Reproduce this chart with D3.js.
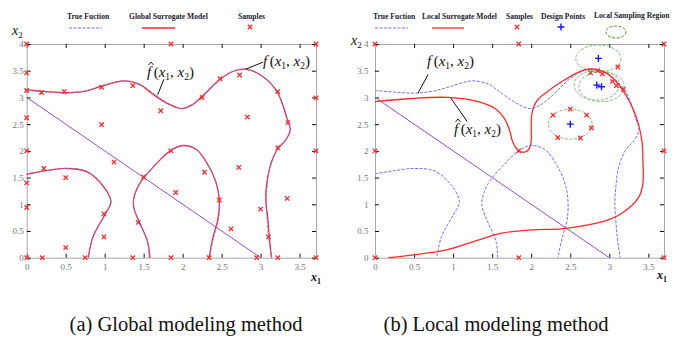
<!DOCTYPE html>
<html><head><meta charset="utf-8">
<script src="https://cdn.jsdelivr.net/npm/d3@7"></script>
<style>body{margin:0;background:#fff} svg{display:block}</style>
</head><body>
<svg id="c" width="689" height="348"></svg>
<script>
// ---------- data ----------
const xTicks = [0, 0.5, 1, 1.5, 2, 2.5, 3, 3.5];
const yTicks = [0, 0.5, 1, 1.5, 2, 2.5, 3, 3.5, 4];
const xTickLabels = ["0", "0.5", "1", "1.5", "2", "2.5", "3", "3.5"];
const yTickLabels = ["0", "0.5", "1", "1.5", "2", "2.5", "3", "3.5", "4"];

// true function contours (shared by both panels)
const trueTop = [[0,3.13],[0.25,3.10],[0.51,3.08],[0.75,3.12],[0.96,3.20],[1.24,3.31],[1.45,3.25],[1.62,3.08],[1.80,2.90],[1.99,2.79],[2.12,2.86],[2.25,3.01],[2.48,3.33],[2.65,3.49],[2.80,3.53],[3.0,3.42],[3.21,3.11],[3.34,2.60],[3.38,2.39],[3.32,2.20],[3.21,2.02],[3.12,1.70],[3.08,1.27],[3.07,1.0],[3.08,0.77],[3.10,0.40],[3.14,0]];
const trueLeft = [[0,1.57],[0.25,1.63],[0.51,1.67],[0.77,1.62],[0.98,1.35],[1.08,1.05],[1.00,0.80],[0.85,0.39],[0.79,0]];
const trueMid = [[1.57,0],[1.55,0.30],[1.45,0.65],[1.38,0.90],[1.37,1.08],[1.45,1.39],[1.67,1.77],[1.84,2.00],[2.00,2.10],[2.18,2.02],[2.32,1.75],[2.43,1.40],[2.47,1.08],[2.46,0.71],[2.40,0.39],[2.34,0]];
const diagonal = [[0,3],[3,0]];

// global surrogate (panel a)
const globalTop = [[0,3.14],[0.25,3.11],[0.51,3.09],[0.75,3.12],[0.96,3.21],[1.24,3.31],[1.45,3.24],[1.62,3.06],[1.80,2.89],[1.99,2.79],[2.12,2.86],[2.25,3.02],[2.48,3.34],[2.65,3.49],[2.80,3.53],[3.0,3.42],[3.21,3.11],[3.34,2.60],[3.38,2.39],[3.32,2.20],[3.21,2.02],[3.12,1.70],[3.07,1.27],[3.07,1.0],[3.09,0.77],[3.11,0.40],[3.14,0]];
const globalLeft = [[0,1.56],[0.25,1.63],[0.51,1.67],[0.77,1.61],[0.98,1.34],[1.08,1.05],[1.00,0.80],[0.85,0.39],[0.79,0]];
const globalMid = [[1.58,0],[1.55,0.30],[1.45,0.65],[1.38,0.90],[1.37,1.08],[1.45,1.39],[1.67,1.77],[1.84,2.00],[2.00,2.10],[2.18,2.02],[2.32,1.75],[2.43,1.40],[2.47,1.08],[2.45,0.71],[2.39,0.39],[2.34,0]];
const globalSamples = [[0,4],[1.85,4],[3.71,4],[0,3.46],[0,3.13],[0.19,3.09],[0.48,3.11],[0.96,3.19],[1.36,3.22],[1.72,2.75],[2.25,3.00],[2.48,3.35],[2.73,3.42],[3.22,3.11],[2.83,2.63],[3.35,2.53],[3.71,2.99],[0,2.62],[0.96,2.49],[0,2.0],[3.71,2.0],[0.22,1.67],[1.12,1.79],[0,1.40],[0.50,1.50],[1.50,1.51],[1.85,2.0],[2.28,1.60],[2.72,1.69],[1.91,1.22],[0,0.94],[0.99,0.82],[2.47,1.08],[3.34,1.11],[3.22,2.06],[3.00,0.91],[1.43,0.66],[0.99,0.39],[2.62,0.54],[3.10,0.39],[0.50,0.19],[0,0],[0.20,0],[0.75,0],[1.36,0],[1.85,0],[2.34,0],[2.95,0],[3.22,0],[3.71,0]];

// local surrogate (panel b)
const localSurrogate = [[0,2.92],[0.47,2.98],[0.94,3.00],[1.32,2.92],[1.55,2.78],[1.66,2.60],[1.72,2.40],[1.76,2.18],[1.82,2.03],[1.90,1.97],[1.97,2.03],[2.00,2.20],[2.00,2.42],[2.01,2.70],[2.07,2.93],[2.18,3.08],[2.43,3.33],[2.67,3.51],[2.80,3.53],[2.97,3.45],[3.14,3.20],[3.27,2.89],[3.37,2.52],[3.42,2.15],[3.43,1.80],[3.43,1.39],[3.38,1.14],[3.17,0.84],[2.99,0.71],[2.60,0.58],[2.39,0.54],[2.01,0.52],[1.62,0.46],[1.32,0.33],[0.90,0.14],[0.47,0.05],[0.17,0]];
const localSamples = [[0,4],[1.84,4],[3.70,4],[0,2],[3.70,2],[0,0],[1.84,0],[3.70,0],[1.84,2.0],[3.11,3.57],[2.76,3.46],[2.85,3.50],[2.91,3.44],[3.04,3.30],[3.09,3.22],[3.18,3.15],[2.28,2.67],[2.50,2.78],[2.71,2.67],[2.77,2.43],[2.34,2.25],[2.63,2.24]];
const designPoints = [[2.86,3.73],[2.84,3.23],[2.90,3.20],[2.50,2.50]];
// local sampling regions: centre x, centre y, radius x, radius y (data units)
const regionCx = [2.86, 2.84, 2.90, 2.50];
const regionCy = [3.73, 3.23, 3.20, 2.50];
const regionRx = [0.29, 0.29, 0.29, 0.28];
const regionRy = [0.25, 0.28, 0.28, 0.28];

const legendA = ["True Fuction", "Global Surrogate Model", "Samples"];
const legendB = ["True Fuction", "Local Surrogate Model", "Samples", "Design Points", "Local Sampling Region"];
const captions = ["(a) Global modeling method", "(b) Local modeling method"];

// ---------- drawing ----------
const svg = d3.select("#c");
const RED = "#ff2a2a", BLUE = "#6f6fff", PURPLE = "#9a4ccf", GREEN = "#7fbf7f", DBLUE = "#1414ff";
const serif = "Liberation Serif";

function panel(opts) {
  const x = d3.scaleLinear().domain([0, opts.xmax]).range([opts.x0, opts.x1]);
  const y = d3.scaleLinear().domain([0, 4]).range([257.7, 44]);
  const g = svg.append("g");
  const line = d3.line().x(d => x(d[0])).y(d => y(d[1])).curve(d3.curveCatmullRom.alpha(0.5));

  const styleAxis = (sel) => {
    sel.attr("font-family", serif).attr("font-size", 9);
    sel.select(".domain").attr("stroke", "#a8a8a8").attr("stroke-width", 1);
    sel.selectAll(".tick line").attr("stroke", "#111").attr("stroke-width", 1);
    sel.selectAll(".tick text").attr("fill", "#777");
  };
  g.append("g").attr("transform", `translate(0,${y(0)})`)
    .call(d3.axisBottom(x).tickValues(xTicks).tickFormat((d,i) => xTickLabels[i]).tickSize(-4).tickSizeOuter(0).tickPadding(6))
    .call(styleAxis);
  g.append("g").attr("transform", `translate(0,${y(4)})`)
    .call(d3.axisTop(x).tickValues(xTicks).tickFormat("").tickSize(-4).tickSizeOuter(0))
    .call(styleAxis);
  g.append("g").attr("transform", `translate(${x(0)},0)`)
    .call(d3.axisLeft(y).tickValues(yTicks).tickFormat((d,i) => yTickLabels[i]).tickSize(-4).tickSizeOuter(0).tickPadding(opts.ypad))
    .call(styleAxis);
  g.append("g").attr("transform", `translate(${x(opts.xmax)},0)`)
    .call(d3.axisRight(y).tickValues(yTicks).tickFormat("").tickSize(-4).tickSizeOuter(0))
    .call(styleAxis);

  const xl = g.append("text").attr("x", opts.x2lab[0]).attr("y", opts.x2lab[1])
    .attr("font-family", serif).attr("font-size", 14).attr("font-style", "italic").attr("fill", "#111");
  xl.append("tspan").text("x");
  xl.append("tspan").attr("font-size", 9).attr("font-style", "normal").attr("dy", 3).text("2");
  const xl1 = g.append("text").attr("x", opts.x1lab[0]).attr("y", opts.x1lab[1])
    .attr("font-family", serif).attr("font-size", 12).attr("font-style", "italic").attr("font-weight", "bold").attr("fill", "#111");
  xl1.append("tspan").text("x");
  xl1.append("tspan").attr("font-size", 8).attr("font-style", "normal").attr("dy", 2.5).text("1");

  return {g, x, y, line};
}

function xMark(g, px, py, s) {
  g.append("path").attr("d", `M${px-s},${py-s}L${px+s},${py+s}M${px-s},${py+s}L${px+s},${py-s}`)
    .attr("stroke", RED).attr("stroke-width", 1.3).attr("fill", "none");
}
function plusMark(g, px, py, s) {
  g.append("path").attr("d", `M${px-s},${py}L${px+s},${py}M${px},${py-s}L${px},${py+s}`)
    .attr("stroke", DBLUE).attr("stroke-width", 1.4).attr("fill", "none");
}
function fLabel(g, px, py, hat) {
  const t = g.append("text").attr("x", px).attr("y", py).attr("font-family", serif)
    .attr("font-size", 15).attr("fill", "#111");
  t.append("tspan").attr("font-style", "italic").text("f");
  t.append("tspan").attr("dx", 2.5).text("(");
  t.append("tspan").attr("font-style", "italic").text("x");
  t.append("tspan").attr("font-size", 9.5).attr("dy", 3).text("1");
  t.append("tspan").attr("dy", -3).text(", ");
  t.append("tspan").attr("font-style", "italic").text("x");
  t.append("tspan").attr("font-size", 9.5).attr("dy", 3).text("2");
  t.append("tspan").attr("dy", -3).text(")");
  if (hat) {
    g.append("path").attr("d", `M${px+1.5},${py-12}L${px+4},${py-15}L${px+6.5},${py-12}`)
      .attr("stroke", "#111").attr("stroke-width", 0.9).attr("fill", "none");
  }
}
function leader(p, a, b) {
  p.g.append("line").attr("x1", p.x(a[0])).attr("y1", p.y(a[1])).attr("x2", p.x(b[0])).attr("y2", p.y(b[1]))
    .attr("stroke", "#111").attr("stroke-width", 1);
}
function legendText(px, py, s) {
  svg.append("text").attr("x", px).attr("y", py).attr("font-family", serif).attr("font-size", 7.6)
    .attr("font-weight", "bold").attr("fill", "#1a1a30").text(s);
}

// ---------- panel a ----------
const A = panel({xmax: 3.71, x0: 26.7, x1: 316, ypad: 3, x2lab: [12, 35], x1lab: [311, 281]});
A.g.append("path").attr("d", A.line(diagonal)).attr("stroke", PURPLE).attr("stroke-width", 1).attr("fill", "none");
[globalTop, globalLeft, globalMid].forEach(c =>
  A.g.append("path").attr("d", A.line(c)).attr("stroke", RED).attr("stroke-width", 1.3).attr("fill", "none"));
[trueTop, trueLeft, trueMid].forEach(c =>
  A.g.append("path").attr("d", A.line(c)).attr("stroke", BLUE).attr("stroke-width", 1).attr("stroke-dasharray", "3,1.5").attr("fill", "none").attr("opacity", 0.8));
globalSamples.forEach(d => xMark(A.g, A.x(d[0]), A.y(d[1]), 2.2));
leader(A, [1.68, 3.05], [1.76, 3.34]);
fLabel(A.g, 147, 77, true);
leader(A, [2.81, 3.53], [3.03, 3.66]);
fLabel(A.g, 263, 66, false);

// legend a
legendText(67, 19, legendA[0]);
svg.append("line").attr("x1", 69).attr("x2", 102).attr("y1", 28).attr("y2", 28).attr("stroke", BLUE).attr("stroke-dasharray", "3,1.5");
legendText(129, 19, legendA[1]);
svg.append("line").attr("x1", 142).attr("x2", 175).attr("y1", 28).attr("y2", 28).attr("stroke", RED).attr("stroke-width", 1.3);
legendText(238, 19, legendA[2]);
xMark(svg, 250, 27, 2.2);

// ---------- panel b ----------
const B = panel({xmax: 3.70, x0: 375, x1: 664, ypad: 6.5, x2lab: [351, 45], x1lab: [657, 279]});
B.g.append("path").attr("d", B.line(diagonal)).attr("stroke", PURPLE).attr("stroke-width", 1).attr("fill", "none");
regionCx.forEach((cx, i) => {
  B.g.append("ellipse").attr("cx", B.x(cx)).attr("cy", B.y(regionCy[i]))
    .attr("rx", B.x(regionRx[i]) - B.x(0)).attr("ry", B.y(0) - B.y(regionRy[i]))
    .attr("fill", "none").attr("stroke", GREEN).attr("stroke-width", 1).attr("stroke-dasharray", "3,1.5");
});
[trueTop, trueLeft, trueMid].forEach(c =>
  B.g.append("path").attr("d", B.line(c)).attr("stroke", BLUE).attr("stroke-width", 1).attr("stroke-dasharray", "3,1.5").attr("fill", "none"));
B.g.append("path").attr("d", B.line(localSurrogate)).attr("stroke", RED).attr("stroke-width", 1.3).attr("fill", "none");
localSamples.forEach(d => xMark(B.g, B.x(d[0]), B.y(d[1]), 2.2));
designPoints.forEach(d => plusMark(B.g, B.x(d[0]), B.y(d[1]), 3.5));
leader(B, [0.55, 3.08], [0.68, 3.43]);
fLabel(B.g, 427, 66, false);
leader(B, [0.97, 2.99], [1.18, 2.55]);
fLabel(B.g, 454, 134, true);

// legend b
legendText(373, 19, legendB[0]);
svg.append("line").attr("x1", 375).attr("x2", 408).attr("y1", 28).attr("y2", 28).attr("stroke", BLUE).attr("stroke-dasharray", "3,1.5");
legendText(422, 19, legendB[1]);
svg.append("line").attr("x1", 432).attr("x2", 464).attr("y1", 28).attr("y2", 28).attr("stroke", RED).attr("stroke-width", 1.3);
legendText(506, 19, legendB[2]);
xMark(svg, 517, 27, 2.2);
legendText(541, 19, legendB[3]);
plusMark(svg, 561, 27, 3.5);
legendText(594, 18, legendB[4]);
svg.append("ellipse").attr("cx", 616).attr("cy", 32).attr("rx", 10).attr("ry", 6)
  .attr("fill", "none").attr("stroke", "#4f8f2f").attr("stroke-width", 1).attr("stroke-dasharray", "3,1.5");

// captions
svg.append("text").attr("x", 186).attr("y", 331).attr("text-anchor", "middle").attr("font-family", serif)
  .attr("font-size", 20.5).attr("fill", "#111").text(captions[0]);
svg.append("text").attr("x", 496).attr("y", 331).attr("text-anchor", "middle").attr("font-family", serif)
  .attr("font-size", 20.5).attr("fill", "#111").text(captions[1]);
</script>
</body></html>
